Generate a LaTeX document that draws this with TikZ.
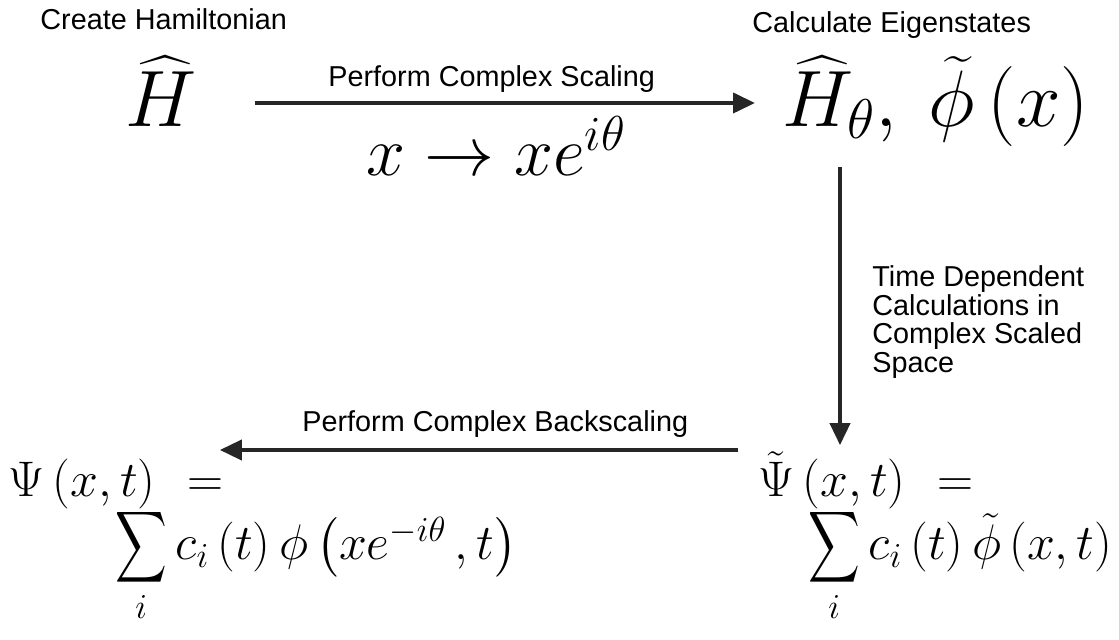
\RequirePackage{fix-cm}
\documentclass[tikz,border=0pt]{standalone}
\usepackage{amsmath}
\usepackage{fontspec}
\newfontfamily\etiquettefont{Liberation Sans}
\usetikzlibrary{calc, arrows.meta}

% somme plus etroite, comme dans la figure
\newcommand{\sommei}{\mathop{\scalebox{0.72}[1]{$\displaystyle\sum$}}\limits_{i}}

\begin{document}
\begin{tikzpicture}[x=0.5pt, y=-0.5pt,
  etiquette/.style={font=\etiquettefont\fontsize{14.4}{14.4}\selectfont, inner sep=0pt},
  grandemath/.style={font=\fontsize{40}{48}\selectfont, inner sep=0pt},
  moyennemath/.style={font=\fontsize{35}{42}\selectfont, inner sep=0pt},
  petitemath/.style={font=\fontsize{25}{30}\selectfont, inner sep=0pt},
  fleche/.style={line width=2pt, black!85, -{Triangle[length=11pt, width=10pt]}}]

  % --- Cadre de l'image ---
  \useasboundingbox (0,0) rectangle (1119,640);

  % --- Hamiltonien de depart ---
  \node[etiquette, anchor=base west] (creer) at (40,30) {Create Hamiltonian};
  \node[grandemath, anchor=base west] (ham) at (125,127) {$\widehat{H}$};

  % --- Mise a l'echelle complexe ---
  \node[etiquette, anchor=base west] (scal) at (328,87) {Perform Complex Scaling};
  \node[moyennemath, anchor=base west] (map) at (366,176) {$x\rightarrow xe^{i\theta}$};

  % --- Etats propres ---
  \node[etiquette, anchor=base west] (calc) at (752,33) {Calculate Eigenstates};
  \node[grandemath, anchor=base west] (hth) at (782,127)
    {$\widehat{H}_{\theta},\:\widetilde{\phi}\left(x\right)$};

  % --- Evolution temporelle ---
  \node[etiquette, anchor=north west, align=left] (tdep) at (872,265)
    {Time Dependent\\Calculations in\\Complex Scaled\\Space};

  % --- Fonctions d'onde ---
  \node[petitemath, anchor=base west] (psit) at (758,497)
    {$\tilde{\Psi}\,(x,t)\hspace{9pt}=$};
  \node[petitemath, anchor=base west] (psitsum) at (808,560)
    {$\sommei c_{i}\left(t\right)\tilde{\phi}\left(x,t\right)$};
  \node[petitemath, anchor=base west] (psi) at (8,497)
    {$\Psi\,(x,t)\hspace{9pt}=$};
  \node[petitemath, anchor=base west] (psisum) at (115,560)
    {$\sommei c_{i}\left(t\right)\phi\left(xe^{-i\theta}\,,t\right)$};
  \node[etiquette, anchor=base west] (back) at (302,432) {Perform Complex Backscaling};

  % --- Fleches ---
  \coordinate (hauty) at (0,103);
  \coordinate (axex) at (840,0);
  \coordinate (basy) at (0,450);
  \draw[fleche, shorten <=29pt, shorten >=13.5pt] (ham.east |- hauty) -- (hth.west |- hauty);
  \draw[fleche, shorten <=10pt, shorten >=3pt] (hth.south -| axex) -- (psit.north -| axex);
  \draw[fleche, shorten <=10pt, shorten >=-2pt] (psit.west |- basy) -- (psi.east |- basy);

\end{tikzpicture}
\end{document}
